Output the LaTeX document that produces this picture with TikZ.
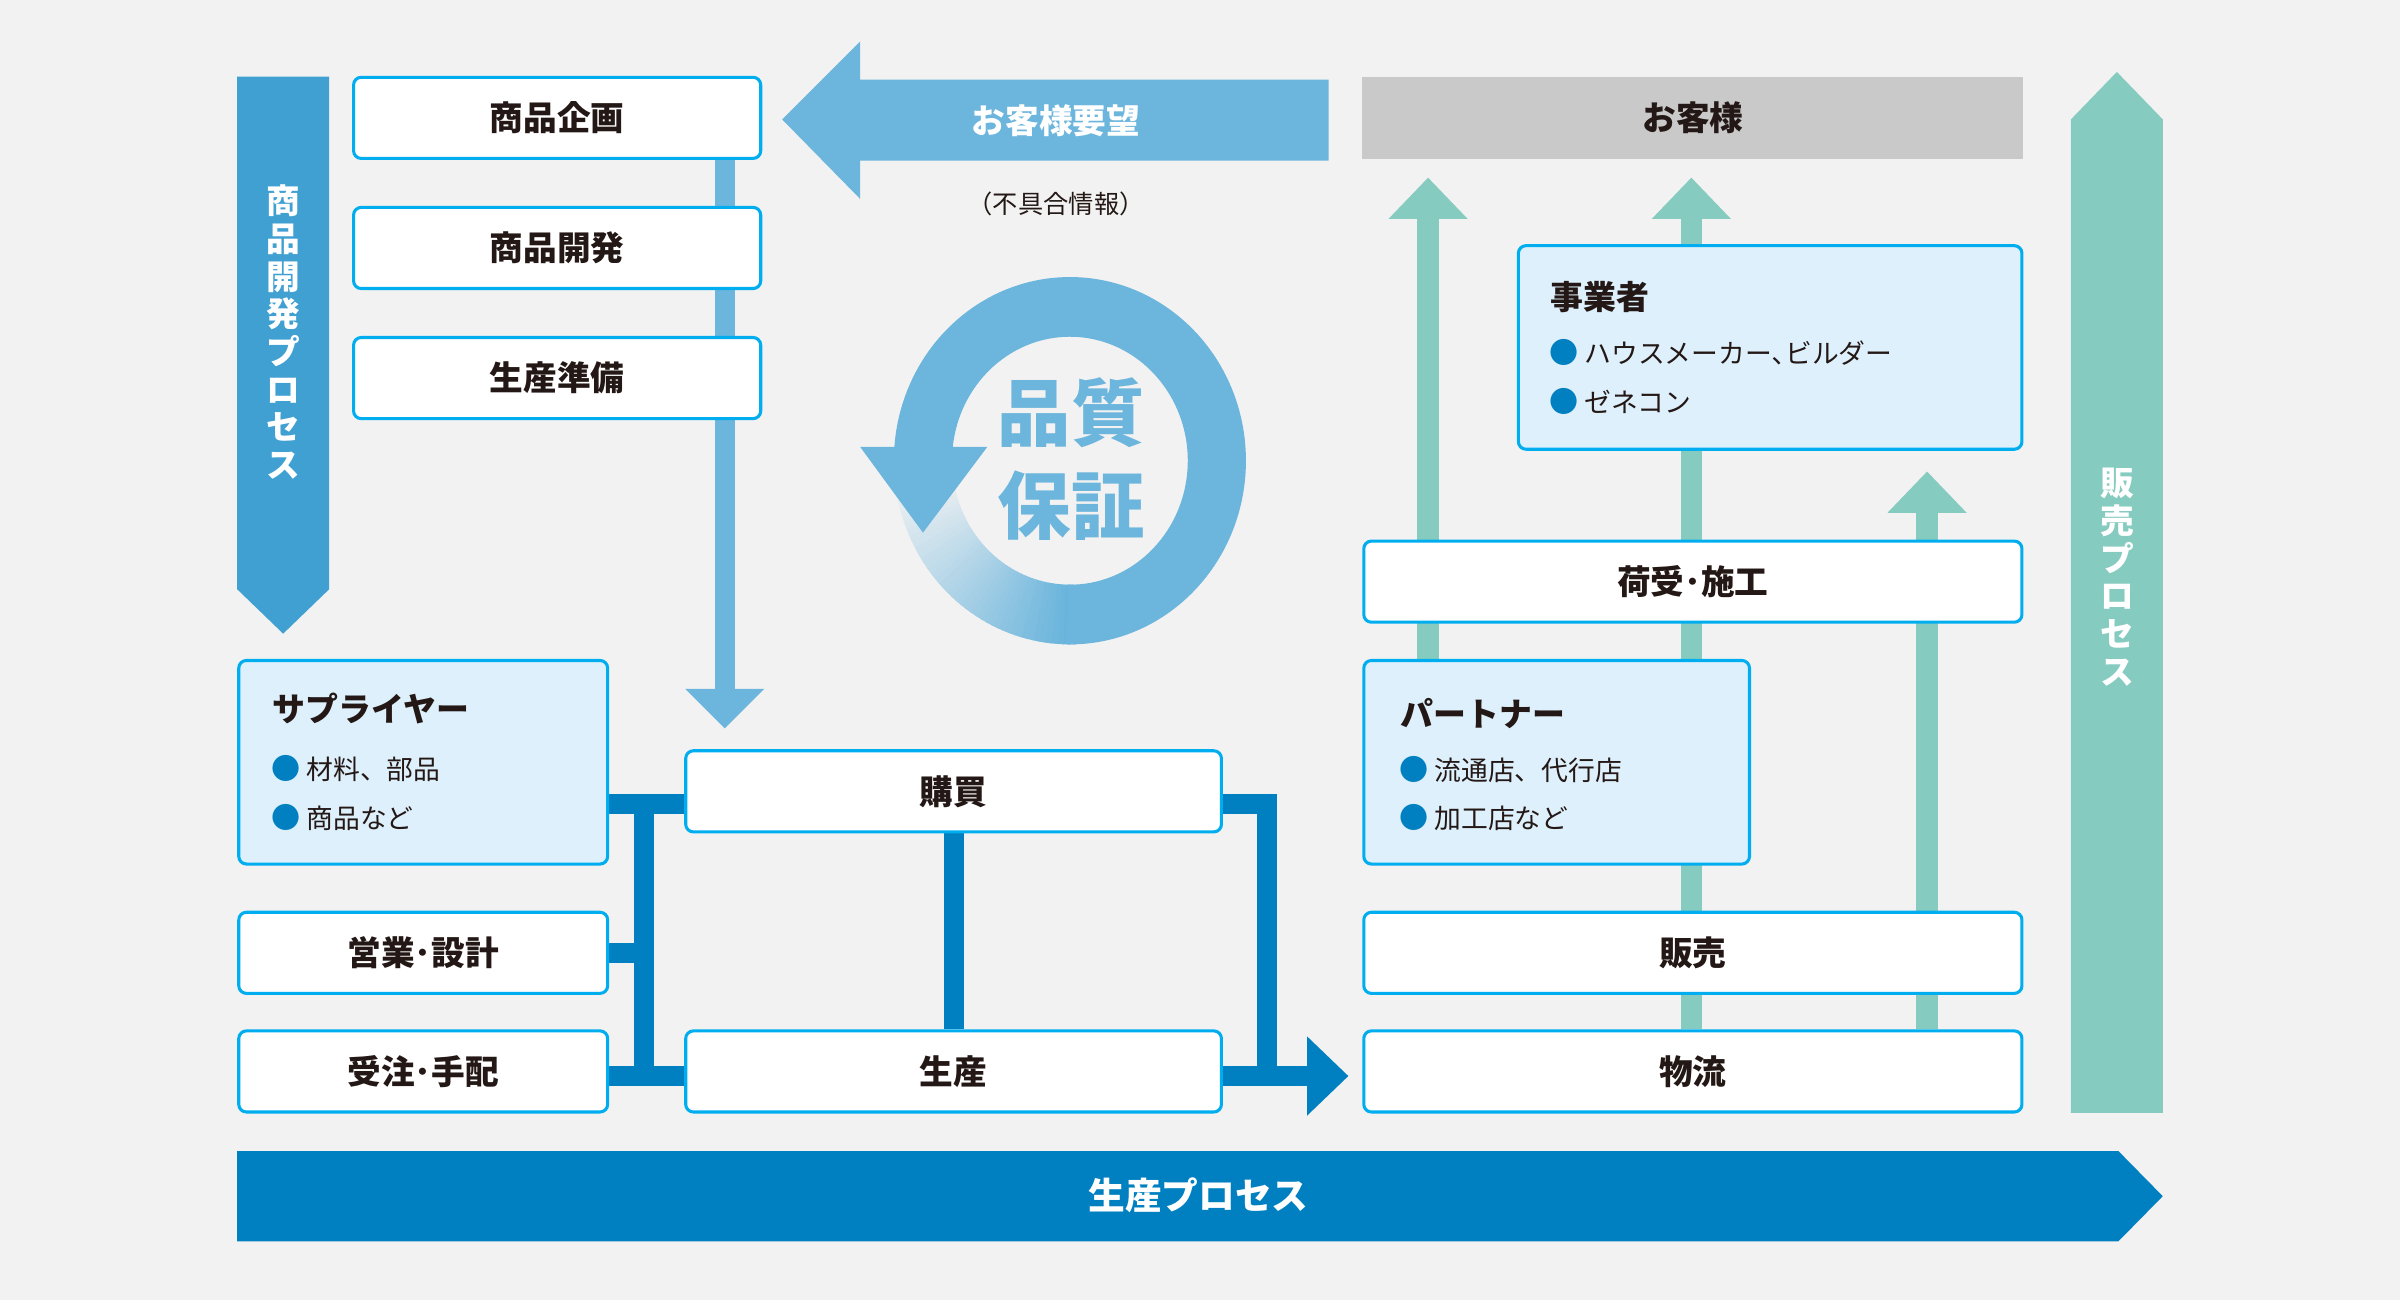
\documentclass[tikz,border=0pt]{standalone}
\usepackage{fontspec}
\setmainfont{Noto Sans CJK JP}
\usepackage{tikz}
\usetikzlibrary{arrows.meta}
\usetikzlibrary{positioning}
\definecolor{bgcol}{HTML}{F2F2F2}
\definecolor{boxline}{HTML}{00AEEF}
\definecolor{infofill}{HTML}{DEF0FB}
\definecolor{dkblue}{HTML}{0080C0}
\definecolor{qcol}{HTML}{6CB5DC}
\definecolor{devblue}{HTML}{40A0D2}
\definecolor{salesgreen}{HTML}{86CBBF}
\definecolor{graybox}{HTML}{C9C9C9}
\definecolor{ink}{HTML}{231815}
\newcommand\dotitem{{\color{dkblue}\fontsize{19}{22}\selectfont ●}\hspace{4pt}}
\pgfdeclarelayer{bg}
\pgfdeclarelayer{back}
\pgfsetlayers{bg,back,main}

\begin{document}
\begin{tikzpicture}[x=1pt,y=-1pt,
  box/.style={draw=boxline,line width=2pt,fill=white,rounded corners=5pt,inner sep=0pt,minimum height=53pt,text=ink,font=\fontsize{22}{26}\selectfont\bfseries},
  info/.style={box,fill=infofill,minimum height=133pt},
  ttl/.style={anchor=west,inner sep=0pt,text=ink,font=\fontsize{21.5}{26}\selectfont\bfseries},
  item/.style={anchor=west,inner sep=0pt,text=ink,font=\fontsize{17.5}{22}\selectfont},
  bartext/.style={text=white,font=\fontsize{22}{26}\selectfont\bfseries},
  vtext/.style={bartext,align=center,font=\fontsize{22}{24.6}\selectfont\bfseries},
  conn/.style={draw=dkblue,line width=13pt},
  parrow/.style={draw=qcol,line width=13pt,-{Triangle[width=50pt,length=26pt]}},
  tarrow/.style={draw=salesgreen,line width=14pt,-{Triangle[width=50pt,length=27pt]}}]

\begin{pgfonlayer}{bg}
  \fill[bgcol] (0,0) rectangle (1568,849);
\end{pgfonlayer}

% process arrows
\fill[devblue] (155,50) -- (215,50) -- (215,385) -- (185,414) -- (155,385) -- cycle;
\node[vtext] (devproc) at (185,217) {商\\品\\開\\発\\プ\\ロ\\セ\\ス};
\fill[salesgreen] (1353,727) -- (1353,78) -- (1383,47) -- (1413,78) -- (1413,727) -- cycle;
\node[vtext] (salesproc) at (1383,377) {販\\売\\プ\\ロ\\セ\\ス};
\fill[dkblue] (155,752) -- (1384,752) -- (1413,781.5) -- (1384,811) -- (155,811) -- cycle;
\node[bartext,font=\fontsize{24}{28}\selectfont\bfseries] (prodproc) at (783,781) {生産プロセス};
\fill[qcol] (868,52) -- (562,52) -- (562,27) -- (511,78) -- (562,130) -- (562,105) -- (868,105) -- cycle;
\node[bartext] (wish) at (690,79) {お客様要望};
\node[item,anchor=center,font=\fontsize{16.5}{20}\selectfont] (defect) at (690,133) {（不具合情報）};

% quality loop
\begin{scope}[shift={(699,301)}]
  \foreach \a [evaluate=\a as \p using {max(4,100-(\a-92)*1.25)}] in {88,90,...,170}
    \fill[qcol!\p!bgcol] (\a:115 and 120) arc[start angle=\a,end angle=\a+2.6,x radius=115,y radius=120]
      -- (\a+2.6:77 and 81) arc[start angle=\a+2.6,end angle=\a,x radius=77,y radius=81] -- cycle;
  \fill[qcol] (91:115 and 120) arc[start angle=91,end angle=-176,x radius=115,y radius=120]
    -- (-176:77 and 81) arc[start angle=-176,end angle=91,x radius=77,y radius=81] -- cycle;
\end{scope}
\fill[qcol] (562,292) -- (645,292) -- (603,348) -- cycle;
\node[align=center,text=qcol,font=\fontsize{48}{61}\selectfont\bfseries] (qa) at (700,300) {品質\\保証};

% left side
\node[box,minimum width=266pt] (plan) at (364,77) {商品企画};
\node[box,minimum width=266pt] (dev) at (364,162) {商品開発};
\node[box,minimum width=266pt] (prep) at (364,247) {生産準備};
\node[info,minimum width=241pt] (sup) at (276.5,498) {};
\node[ttl] (supt) at (178,463) {サプライヤー};
\node[item] (sup1) at (177,502) {\dotitem 材料、部品};
\node[item] (sup2) at (177,534) {\dotitem 商品など};
\node[box,minimum width=241pt] (sales) at (276.5,622.5) {営業･設計};
\node[box,minimum width=241pt] (order) at (276.5,700) {受注･手配};
\node[box,minimum width=350pt] (buy) at (623,517) {購買};
\node[box,minimum width=350pt] (prod) at (623,700) {生産};

% right side
\node[fill=graybox,inner sep=0pt,minimum width=432pt,minimum height=54pt,text=ink,font=\fontsize{22}{26}\selectfont\bfseries] (cust) at (1106,77) {お客様};
\node[info,minimum width=329pt] (biz) at (1156.5,227) {};
\node[ttl] (bizt) at (1013,194) {事業者};
\node[item] (biz1) at (1012,230) {\dotitem ハウスメーカー､ビルダー};
\node[item] (biz2) at (1012,262) {\dotitem ゼネコン};
\node[box,minimum width=430pt] (inst) at (1106,380) {荷受･施工};
\node[info,minimum width=252pt] (ptn) at (1017,498) {};
\node[ttl] (ptnt) at (915,466) {パートナー};
\node[item] (ptn1) at (914,503) {\dotitem 流通店、代行店};
\node[item] (ptn2) at (914,534) {\dotitem 加工店など};
\node[box,minimum width=430pt] (sell) at (1106,622.5) {販売};
\node[box,minimum width=430pt] (logi) at (1106,700) {物流};

\coordinate (jn) at (421,525);
\coordinate (js) at (421,703);
\coordinate (jr) at (828,703);
\coordinate (pd) at (473.5,476);
\coordinate (ta) at (933,116);
\coordinate (tb) at (1105,116);
\coordinate (tc) at (1259,308);

\begin{pgfonlayer}{back}
  \draw[parrow] (plan.south -| pd) -- (pd);
  \draw[conn] (sup.east |- jn) -- (buy.west |- jn);
  \draw[conn] (jn) -- (js);
  \draw[conn] (sales.east) -- (sales.east -| jn);
  \draw[conn] (order.east |- js) -- (prod.west |- js);
  \draw[conn] (buy.south) -- (prod.north);
  \draw[conn] (buy.east |- jn) -| (jr);
  \draw[conn,-{Triangle[width=50pt,length=27pt]},shorten >=9pt] (prod.east |- js) -- (logi.west |- js);
  \draw[tarrow] (ptn.north -| ta) -- (ta);
  \draw[tarrow] (logi.north -| tb) -- (tb);
  \draw[tarrow] (logi.north -| tc) -- (tc);
\end{pgfonlayer}
\end{tikzpicture}
\end{document}
